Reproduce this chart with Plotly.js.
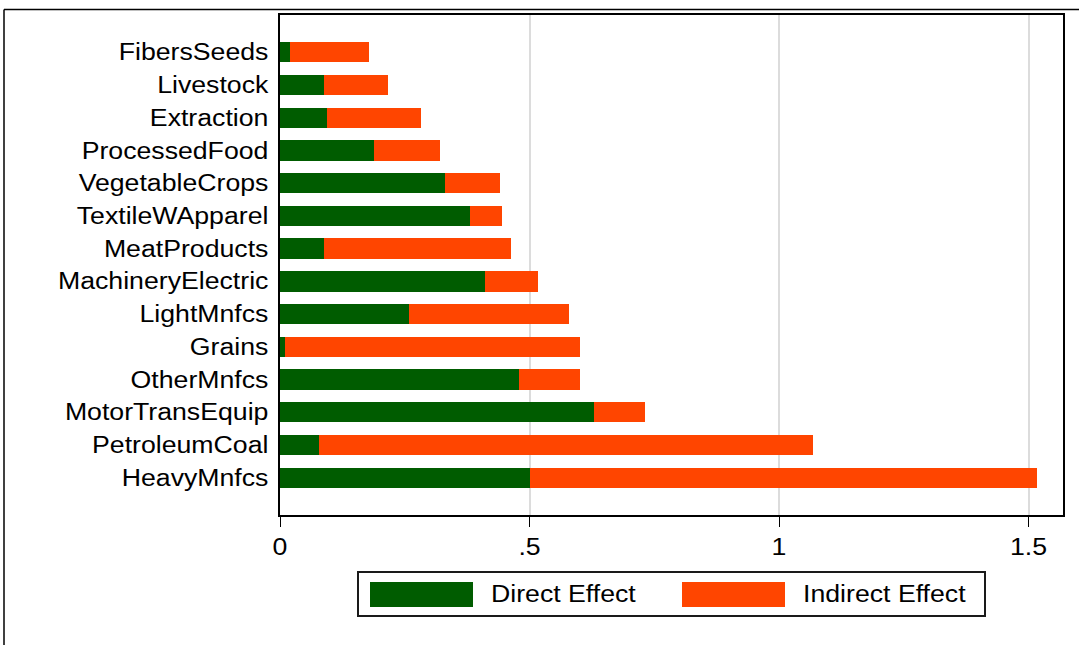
<!DOCTYPE html>
<html>
<head>
<meta charset="utf-8">
<script src="https://cdn.plot.ly/plotly-3.0.1.min.js"></script>
<style>
  html, body { margin: 0; padding: 0; background: #ffffff; }
  #chart { width: 1079px; height: 645px; }
</style>
</head>
<body>
<div id="chart"></div>
<script>
// Categories, top to bottom
const sectors = [
  "FibersSeeds", "Livestock", "Extraction", "ProcessedFood", "VegetableCrops",
  "TextileWApparel", "MeatProducts", "MachineryElectric", "LightMnfcs", "Grains",
  "OtherMnfcs", "MotorTransEquip", "PetroleumCoal", "HeavyMnfcs"
];
const directEffect = [
  0.020, 0.088, 0.094, 0.188, 0.331,
  0.381, 0.088, 0.411, 0.259, 0.010,
  0.479, 0.629, 0.078, 0.501
];
const indirectEffect = [
  0.158, 0.129, 0.189, 0.133, 0.110,
  0.064, 0.375, 0.106, 0.320, 0.591,
  0.122, 0.102, 0.990, 1.016
];
const seriesNames = ["Direct Effect", "Indirect Effect"];
const xTickVals = [0, 0.5, 1, 1.5];
const xTickText = ["0", ".5", "1", "1.5"];

const GREEN = "#005c00";
const ORANGE = "#ff4500";
const FONT = "Liberation Sans, Arial, sans-serif";
const FS = 23;
const STRETCH = 1.16; // reference text is horizontally wide

// plot area in pixels
const W = 1079, H = 645;
const L = 280, R = 1063, T = 15, B = 515;
const pw = R - L, ph = B - T;
const px = x => (x - L) / pw;
const py = y => (B - y) / ph;

const traces = [
  {
    type: "bar", orientation: "h", name: seriesNames[0],
    y: sectors, x: directEffect,
    marker: { color: GREEN, line: { width: 0 } },
    showlegend: false, hoverinfo: "x+y"
  },
  {
    type: "bar", orientation: "h", name: seriesNames[1],
    y: sectors, x: indirectEffect,
    marker: { color: ORANGE, line: { width: 0 } },
    showlegend: false, hoverinfo: "x+y"
  }
];

const shapes = [
  // outer graph frame (top and left edges visible)
  { type: "line", xref: "paper", yref: "paper", x0: px(4), x1: px(1100), y0: py(9.5), y1: py(9.5),
    line: { color: "#000000", width: 1.5 } },
  { type: "line", xref: "paper", yref: "paper", x0: px(4), x1: px(4), y0: py(9.5), y1: py(660),
    line: { color: "#000000", width: 1.5 } },
  // legend box
  { type: "rect", xref: "paper", yref: "paper", x0: px(358), x1: px(985), y0: py(616), y1: py(572),
    line: { color: "#1a1a1a", width: 2 }, fillcolor: "#ffffff" },
  // legend swatches
  { type: "rect", xref: "paper", yref: "paper", x0: px(370), x1: px(473), y0: py(607), y1: py(582),
    line: { width: 0 }, fillcolor: GREEN },
  { type: "rect", xref: "paper", yref: "paper", x0: px(682), x1: px(785), y0: py(607), y1: py(582),
    line: { width: 0 }, fillcolor: ORANGE }
];

const annotations = [
  { xref: "paper", yref: "paper", x: px(489), y: py(594), xanchor: "left", yanchor: "middle",
    text: seriesNames[0], showarrow: false, font: { family: FONT, size: FS, color: "#000000" } },
  { xref: "paper", yref: "paper", x: px(801), y: py(594), xanchor: "left", yanchor: "middle",
    text: seriesNames[1], showarrow: false, font: { family: FONT, size: FS, color: "#000000" } }
];

const layout = {
  width: W, height: H,
  margin: { l: L, r: W - R, t: T, b: H - B, pad: 0 },
  paper_bgcolor: "#ffffff", plot_bgcolor: "#ffffff",
  barmode: "stack", bargap: 0.38,
  font: { family: FONT, size: FS, color: "#000000" },
  xaxis: {
    range: [0, (R - L) / 499],
    tickvals: xTickVals, ticktext: xTickText,
    ticks: "outside", ticklen: 10, tickwidth: 1, tickcolor: "#000000",
    showgrid: true, gridcolor: "#dcdcdc", gridwidth: 2,
    zeroline: false,
    showline: true, linecolor: "#000000", linewidth: 2, mirror: true,
    tickfont: { family: FONT, size: FS, color: "#000000" },
    fixedrange: true
  },
  yaxis: {
    type: "category",
    categoryorder: "array", categoryarray: sectors,
    range: [14.14, -1.14],
    ticks: "", showgrid: false, zeroline: false,
    showline: true, linecolor: "#000000", linewidth: 2, mirror: true,
    ticklabelstandoff: 5,
    tickfont: { family: FONT, size: FS, color: "#000000" },
    fixedrange: true
  },
  shapes: shapes,
  annotations: annotations
};

function stretchText(sel, mode) {
  document.querySelectorAll(sel).forEach(t => {
    const bb = t.getBBox();
    let ax = bb.x;
    if (mode === "end") ax = bb.x + bb.width;
    else if (mode === "middle") ax = bb.x + bb.width / 2;
    const prev = t.getAttribute("transform") || "";
    t.setAttribute("transform",
      prev + " translate(" + ax + ",0) scale(" + STRETCH + ",1) translate(" + (-ax) + ",0)");
  });
}

Plotly.newPlot("chart", traces, layout, { displayModeBar: false, staticPlot: true }).then(() => {
  stretchText("#chart .ytick text", "end");
  stretchText("#chart .xtick text", "middle");
  stretchText("#chart .annotation-text", "start");
});
</script>
</body>
</html>
